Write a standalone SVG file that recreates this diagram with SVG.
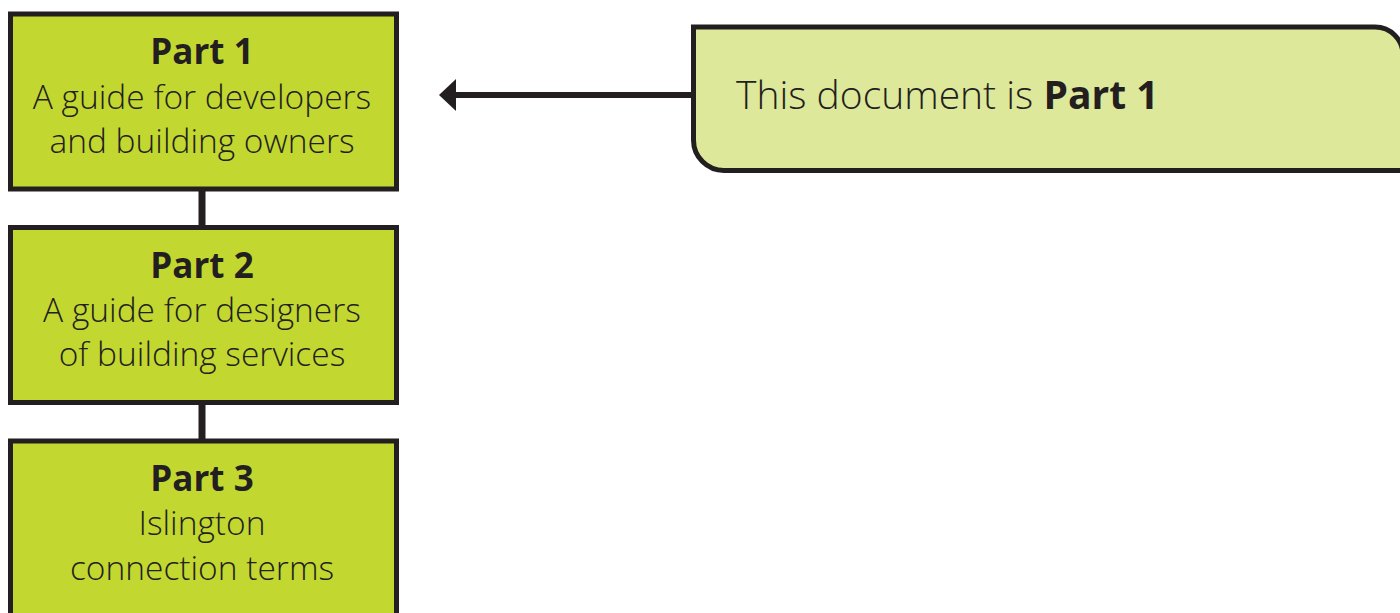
<svg xmlns="http://www.w3.org/2000/svg" width="1400" height="613" viewBox="0 0 1400 613">
<style>
.box{fill:#c2d72f;stroke:#231f20;stroke-width:5}
.call{fill:#dde89a;stroke:#231f20;stroke-width:5}
.conn{stroke:#231f20;stroke-width:7;fill:none}
.arr{stroke:#231f20;stroke-width:6;fill:none}
text{font-family:"Open Sans","Noto Sans",sans-serif;fill:#231f20}
.t{font-size:33.5px;font-weight:300;text-anchor:middle}
.h{font-size:35px;font-weight:700;text-anchor:middle}
.c{font-size:39px;font-weight:300}
</style>
<g id="connectors">
<line class="conn" x1="202" y1="189" x2="202" y2="228"/>
<line class="conn" x1="202" y1="402" x2="202" y2="441"/>
<line class="arr" x1="693" y1="95" x2="456" y2="95"/>
<path d="M439,95 L456,79 L456,111 Z" fill="#231f20"/>
</g>
<g id="part1">
<rect class="box" x="10.5" y="14" width="386" height="175"/>
<text class="h" x="202" y="64">Part 1</text>
<text class="t" x="202" y="109">A guide for developers</text>
<text class="t" x="202" y="153">and building owners</text>
</g>
<g id="part2">
<rect class="box" x="10.5" y="227.5" width="386" height="175"/>
<text class="h" x="202" y="278">Part 2</text>
<text class="t" x="202" y="322">A guide for designers</text>
<text class="t" x="202" y="366">of building services</text>
</g>
<g id="part3">
<rect class="box" x="10.5" y="441" width="386" height="180"/>
<text class="h" x="202" y="491">Part 3</text>
<text class="t" x="202" y="535">Islington</text>
<text class="t" x="202" y="580">connection terms</text>
</g>
<g id="callout">
<path class="call" d="M693.5,27 L1375,27 A28,28 0 0 1 1403,55 L1403,170.5 L724,170.5 A30.5,30.5 0 0 1 693.5,140 Z"/>
<text class="c" x="736" y="109">This document is <tspan font-weight="700">Part 1</tspan></text>
</g>
</svg>
